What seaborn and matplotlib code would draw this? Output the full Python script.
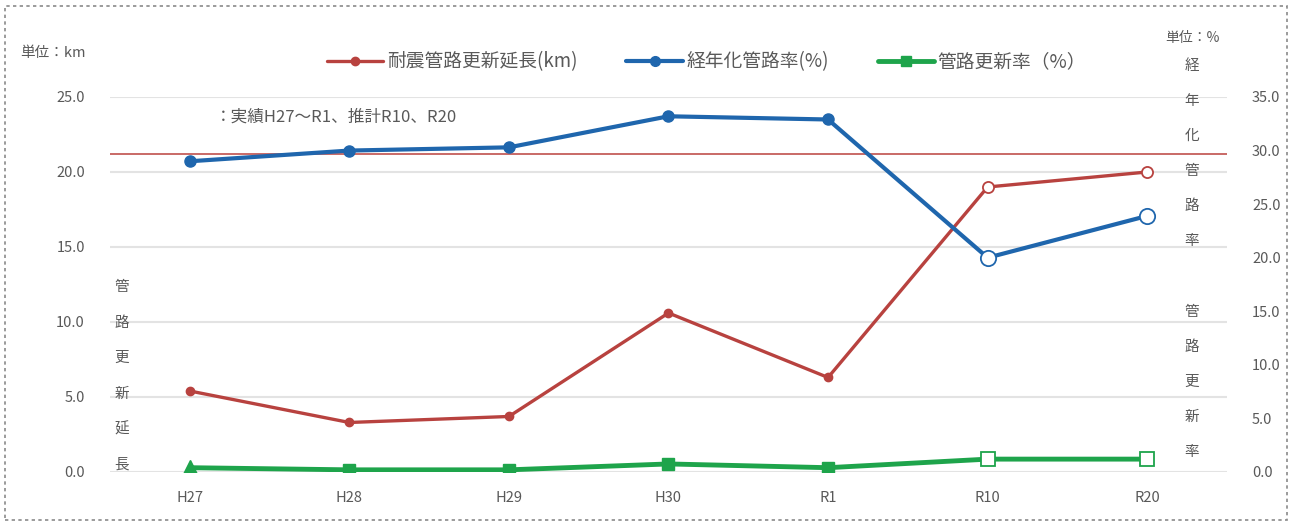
import matplotlib
matplotlib.use("Agg")
import matplotlib.pyplot as plt
import seaborn as sns
import pandas as pd
from matplotlib.lines import Line2D
from matplotlib.patches import Rectangle

categories = ["H27", "H28", "H29", "H30", "R1", "R10", "R20"]
renewal_km = [5.4, 3.3, 3.7, 10.6, 6.3, 19.0, 20.0]
aged_rate = [29.0, 30.0, 30.3, 33.2, 32.9, 20.0, 23.9]
renewal_rate = [0.4, 0.2, 0.2, 0.75, 0.4, 1.2, 1.2]
projected = [False, False, False, False, False, True, True]
left_ticks = [0, 5, 10, 15, 20, 25]
right_ticks = [0, 5, 10, 15, 20, 25, 30, 35]
ref_line_rate = 29.7

sns.set_theme(style="white")
plt.rcParams['font.family'] = ['Noto Sans CJK JP', 'DejaVu Sans']

RED = "#B8423F"
BLUE = "#1F66AD"
GREEN = "#1EA44B"
GRAY = "#595959"

df = pd.DataFrame({"x": range(len(categories)), "cat": categories,
                   "km": renewal_km, "aged": aged_rate, "rate": renewal_rate,
                   "proj": projected})

fig = plt.figure(figsize=(12.92, 5.26), dpi=100)
ax = fig.add_axes([0.0851, 0.1027, 0.8646, 0.7129])
ax2 = ax.twinx()

ax.set_xlim(-0.5, 6.5)
ax.set_ylim(0, 25)
ax2.set_ylim(0, 35)

for y in left_ticks:
    ax.axhline(y, color="#E3E3E3", lw=1.5, zorder=0)

# reference line
ax2.axhline(ref_line_rate, color="#C0504D", lw=1.2, zorder=1)

# red series on left axis
sns.lineplot(data=df, x="x", y="km", ax=ax, color=RED, lw=2.4, zorder=3)
act = df[~df.proj]
prj = df[df.proj]
ax.plot(act.x, act.km, "o", color=RED, ms=6, zorder=4)
ax.plot(prj.x, prj.km, "o", mfc="white", mec=RED, mew=1.3, ms=8, zorder=4)

# blue series on right axis
sns.lineplot(data=df, x="x", y="aged", ax=ax2, color=BLUE, lw=3.0, zorder=3)
ax2.plot(act.x, act.aged, "o", color=BLUE, ms=8, zorder=4)
ax2.plot(prj.x, prj.aged, "o", mfc="white", mec=BLUE, mew=1.3, ms=11, zorder=4)

# green series on right axis
sns.lineplot(data=df, x="x", y="rate", ax=ax2, color=GREEN, lw=3.5, zorder=3)
ax2.plot(act.x.iloc[:1], act.rate.iloc[:1], "^", color=GREEN, ms=12, zorder=4)
ax2.plot(act.x.iloc[1:], act.rate.iloc[1:], "s", color=GREEN, ms=8, zorder=4)
ax2.plot(prj.x, prj.rate, "s", mfc="white", mec=GREEN, mew=1.3, ms=10, zorder=4)

ax.set_xticks(range(len(categories)))
ax.set_xticklabels(categories)
ax.set_yticks(left_ticks)
ax.set_yticklabels([f"{v:.1f}" for v in left_ticks])
ax2.set_yticks(right_ticks)
ax2.set_yticklabels([f"{v:.1f}" for v in right_ticks])
ax.set_xlabel("")
ax.set_ylabel("")
ax2.set_ylabel("")
ax.tick_params(axis="x", colors=GRAY, labelsize=10.5, length=0, pad=14)
ax.tick_params(axis="y", colors=GRAY, labelsize=10.5, length=0, pad=18)
ax2.tick_params(axis="y", colors=GRAY, labelsize=10.5, length=0, pad=18)
for a in (ax, ax2):
    for s in a.spines.values():
        s.set_visible(False)
ax.grid(False)
ax2.grid(False)

# legend
handles = [
    Line2D([], [], color=RED, lw=2.4, marker="o", ms=6),
    Line2D([], [], color=BLUE, lw=3, marker="o", ms=7),
    Line2D([], [], color=GREEN, lw=3.5, marker="s", ms=7),
]
labels = ["耐震管路更新延長(km)", "経年化管路率(%)", "管路更新率（%）"]
fig.legend(handles, labels, loc="center", bbox_to_anchor=(0.547, 0.882), ncol=3,
           frameon=False, fontsize=13.5, labelcolor=GRAY, handlelength=3.0,
           columnspacing=2.6, handletextpad=0.2)

# texts
fig.text(20 / 1292, 1 - 53 / 526, "単位：km", fontsize=10.5, color=GRAY, va="center")
fig.text(1165 / 1292, 1 - 38 / 526, "単位：%", fontsize=10, color=GRAY, va="center")
fig.text(215 / 1292, 1 - 117 / 526, "：実績H27～R1、推計R10、R20", fontsize=12,
         color=GRAY, va="center")

def vertical(text, x, y_top, step):
    for i, ch in enumerate(text):
        fig.text(x / 1292, 1 - (y_top + i * step) / 526, ch, fontsize=10.5,
                 color=GRAY, ha="center", va="center")

vertical("管路更新延長", 122, 287, 35.5)
vertical("経年化管路率", 1192, 66, 35)
vertical("管路更新率", 1192, 312, 35)

fig.patches.append(Rectangle((0.004, 0.012), 0.992, 0.976, transform=fig.transFigure,
                             fill=False, ls=(0, (2, 2)), lw=1.2, ec="#8A8A8A"))

fig.savefig("out.png", dpi=100)
